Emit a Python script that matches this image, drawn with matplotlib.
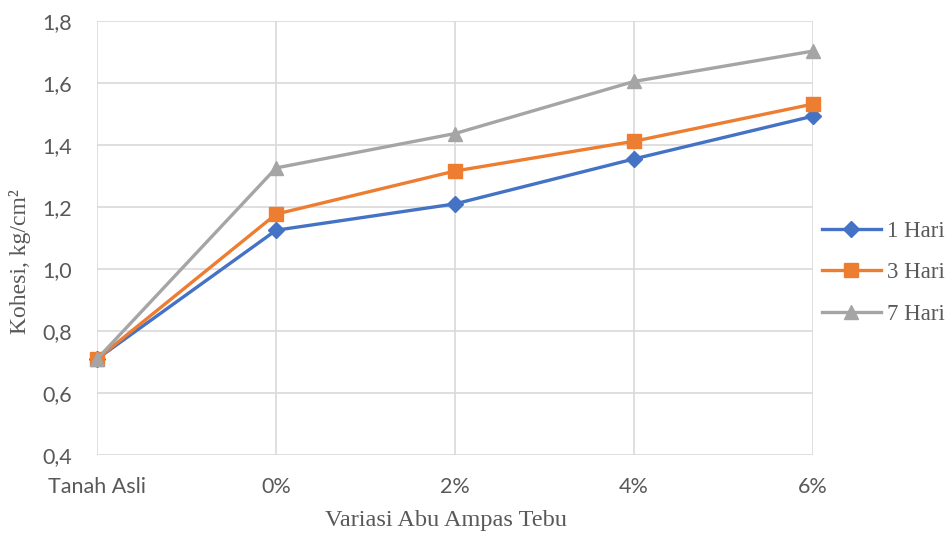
import matplotlib
matplotlib.use("Agg")
import matplotlib.pyplot as plt

categories = ["Tanah Asli", "0%", "2%", "4%", "6%"]
hari_1 = [0.71, 1.125, 1.21, 1.355, 1.493]
hari_3 = [0.71, 1.177, 1.316, 1.412, 1.532]
hari_7 = [0.71, 1.326, 1.437, 1.605, 1.703]
y_ticks = [0.4, 0.6, 0.8, 1.0, 1.2, 1.4, 1.6, 1.8]

fig = plt.figure(figsize=(9.53, 5.39), dpi=100)
ax = fig.add_axes([0.102, 0.156, 0.751, 0.805])

x = list(range(len(categories)))
ax.plot(x, hari_1, color="#4472C4", lw=2.4, marker="D", ms=8, label="1 Hari", clip_on=False, zorder=3)
ax.plot(x, hari_3, color="#ED7D31", lw=2.4, marker="s", ms=10, label="3 Hari", clip_on=False, zorder=4)
ax.plot(x, hari_7, color="#A5A5A5", lw=2.4, marker="^", ms=10, label="7 Hari", clip_on=False, zorder=5)

ax.set_xlim(0, len(categories) - 1)
ax.set_ylim(0.4, 1.8)
ax.set_xticks(x)
ax.set_xticklabels(categories)
ax.set_yticks(y_ticks)
ax.set_yticklabels([f"{v:.1f}".replace(".", ",") for v in y_ticks])

ax.grid(True, color="#D9D9D9", lw=1.2)
ax.set_axisbelow(True)
for s in ax.spines.values():
    s.set_visible(False)
ax.tick_params(length=0, labelsize=15.5, colors="#595959")
ax.tick_params(axis="x", pad=16)
ax.tick_params(axis="y", pad=18)
for lab in ax.get_xticklabels() + ax.get_yticklabels():
    lab.set_family("Lato")

ax.set_xlabel("Variasi Abu Ampas Tebu", family="Liberation Serif", fontsize=17.5, color="#595959")
ax.xaxis.set_label_coords(0.487, -0.128)
ax.set_ylabel("Kohesi, kg/cm²", family="Liberation Serif", fontsize=17, color="#595959")
ax.yaxis.set_label_coords(-0.093, 0.445)

leg = ax.legend(loc="center left", bbox_to_anchor=(1.0, 0.42), frameon=False, borderaxespad=0,
                prop={"family": "Liberation Serif", "size": 16.5}, labelcolor="#595959",
                handlelength=2.55, labelspacing=0.9, handletextpad=0.3)

fig.savefig("out.png", dpi=100)
